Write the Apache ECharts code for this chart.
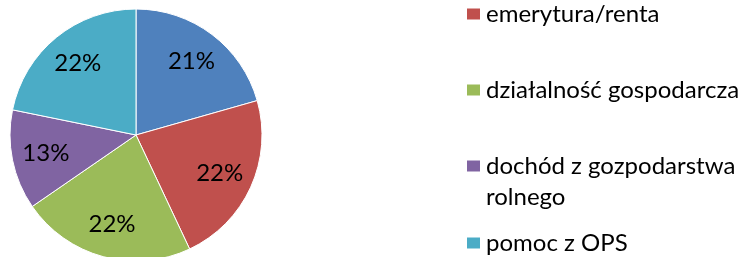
<!DOCTYPE html>
<html>
<head>
<meta charset="utf-8">
<script src="https://cdn.jsdelivr.net/npm/echarts@6/dist/echarts.min.js"></script>
<style>
  html, body { margin: 0; padding: 0; background: #fff; }
  #chart { width: 750px; height: 257px; }
</style>
</head>
<body>
<div id="chart"></div>
<script>
// źródła dochodu
const names = ['praca', 'emerytura/renta', 'działalność gospodarcza', 'dochód z gozpodarstwa rolnego', 'pomoc z OPS']
const values = [20.6, 22.4, 22.4, 12.8, 21.8]
const colors = ['#4F81BD', '#C0504D', '#9BBB59', '#8064A2', '#4BACC6']
// pozycje legendy (środek ikony)
const legendNames = names.slice(1)
const legendY = [14, 90, 166, 243]

const chart = echarts.init(document.getElementById('chart'))

const data = names.map((n, i) => ({ name: n, value: values[i], itemStyle: { color: colors[i] } }))
const font = 'Lato, "Open Sans", sans-serif'
const lh = 31

const legends = legendNames.map((n, i) => {
    const twoLines = n.indexOf('rolnego') >= 0
    return {
        data: [n],
        orient: 'vertical',
        left: 465,
        padding: 0,
        // przy dwóch liniach pusta linia na górze, żeby ikona była przy pierwszej
        top: legendY[i] - (twoLines ? lh * 1.5 : lh / 2),
        itemWidth: 15,
        itemHeight: 13,
        icon: 'rect',
        selectedMode: false,
        formatter: name => twoLines ? '\n' + name.replace('gozpodarstwa ', 'gozpodarstwa\n') : name,
        textStyle: {
            fontFamily: font,
            fontSize: 24,
            color: '#000',
            lineHeight: lh
        }
    }
})

chart.setOption({
    animation: false,
    legend: legends,
    series: [
        {
            type: 'pie',
            center: [136, 135],
            radius: [0, 126],
            startAngle: 90,
            silent: true,
            label: { show: false },
            labelLine: { show: false },
            itemStyle: { borderColor: '#fff', borderWidth: 1 },
            data: data
        },
        {
            // tylko etykiety
            type: 'pie',
            center: [136, 135],
            radius: [52, 126],
            startAngle: 90,
            silent: true,
            legendHoverLink: false,
            itemStyle: { color: 'rgba(0,0,0,0)' },
            label: {
                show: true,
                position: 'inside',
                formatter: p => Math.round(p.percent) + '%',
                fontFamily: font,
                fontSize: 24,
                color: '#000'
            },
            labelLine: { show: false },
            data: names.map((n, i) => ({ name: n, value: values[i] }))
        }
    ]
})
</script>
</body>
</html>
